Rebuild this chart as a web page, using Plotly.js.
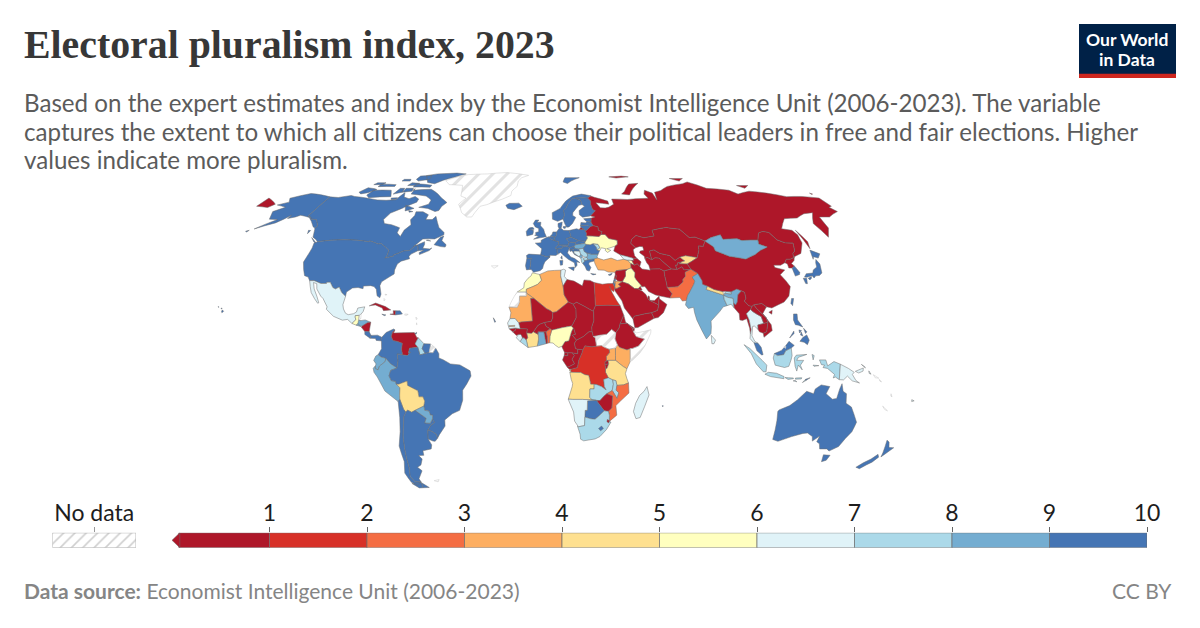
<!DOCTYPE html>
<html><head><meta charset="utf-8"><script src="https://cdn.plot.ly/plotly-3.0.1.min.js"></script>
<style>html,body{margin:0;padding:0;background:#fff}#c{width:1200px;height:628px}</style></head>
<body><div id="c"></div><script>
// ---- chart values ----
const countries=['CAN','USA','MEX','GTM','SLV','HND','NIC','CRI','PAN','CUB','HTI','DOM','JAM','TTO',
'COL','VEN','GUY','SUR','ECU','PER','BRA','BOL','CHL','ARG','PRY','URY',
'ISL','NOR','SWE','FIN','DNK','GBR','IRL','FRA','ESP','PRT','BEL','NLD','LUX','DEU','CHE','AUT','ITA','POL','CZE','SVK','HUN','SVN','HRV','BIH','SRB','MNE','ALB','MKD','GRC','BGR','ROU','MDA','UKR','BLR','LTU','LVA','EST','RUS','CYP',
'TUR','GEO','ARM','AZE','IRN','IRQ','SYR','LBN','ISR','PSE','JOR','SAU','YEM','OMN','ARE','QAT','KWT',
'KAZ','TKM','UZB','KGZ','TJK','AFG','PAK','IND','NPL','BTN','BGD','LKA','MMR','THA','LAO','KHM','VNM','CHN','TWN','MNG','PRK','KOR','JPN','MYS','IDN','PHL','TLS','PNG','AUS','NZL','FJI',
'MAR','DZA','TUN','LBY','EGY','MRT','MLI','NER','TCD','SDN','ERI','ETH','DJI','KEN','UGA','RWA','BDI','TZA','COD','COG','GAB','GNQ','CMR','CAF','NGA','BEN','TGO','GHA','CIV','LBR','SLE','GIN','GNB','SEN','GMB','BFA','AGO','ZMB','MWI','MOZ','ZWE','BWA','NAM','ZAF','SWZ','LSO','MDG','MUS','CPV'];
const values=[10,9.17,6.5,5.5,8.3,8.3,0,9.6,9.6,0,0,9.2,9,9.6,
9.2,0.9,7.5,9.2,8.75,8.75,9.6,4.7,9.6,9.2,8.3,10,
10,10,10,10,10,9.6,10,9.6,9.6,9.6,9.6,9.6,10,9.6,9.6,9.6,9.6,9.2,9.6,9.6,8.3,9.6,9.2,6.5,7.8,8.3,7,7.8,9.6,8.5,9.2,7,5.2,0.9,9.6,9.6,9.6,0.9,9.2,
3.6,6.9,5.5,0.5,0,5.3,0,0.9,9.2,3.5,3.1,0,0,0.9,0,0,0.9,
0.9,0,0.1,4.7,0.9,0,2.3,8.3,4.8,7.5,7.5,6.6,0,6.8,0,0.9,0,0,9.6,8.8,0,9.2,9.2,9.6,7.9,9.2,9.6,6.9,10,10,6,
5.3,3.1,6.2,0,1.3,3.6,0.9,0.9,0,0,0,0.4,0.4,3.5,3.2,0.8,0,4.6,1.6,0.9,0.9,0,0.9,0.9,5.2,2.3,0.9,8.3,4.3,7.9,6.3,0.4,0.9,6.7,3.5,0.9,4.4,7.9,7.1,2.2,0.4,9.2,6.7,7.4,0.9,9,6.1,9.2,9.2];
const noDataCountries=['GRL','ESH','SSD','SOM','GUF','BLZ','XKX','PRI','BHS','SLB','VUT','NCL','FLK','BRN','ATL'];
const binColors=['#ae1729','#d73027','#f46d43','#fdae61','#fee090','#ffffbf','#e0f3f8','#abd9e9','#74add1','#4575b4'];
const binEdges=[0,1,2,3,4,5,6,7,8,9,10];
const legendTicks=[1,2,3,4,5,6,7,8,9,10];
// ---- country outlines, in lon,lat ----
const outlines={
CAN:["-141,69.6 -135,69.3 -128,70.3 -125,69.8 -115,68.9 -108,68.1 -102,67.9 -96,68.2 -94,71.8 -92,69.5 -88,68.7 -85,69.8 -81.5,68.5 -81.4,67 -87,64.5 -88,64 -93,61.8 -94.5,58.8 -92.5,57 -88,56.5 -82.3,55.1 -82.2,52.9 -79.5,51.3 -79,54.1 -76.7,56.5 -78.5,58.7 -77.5,60.7 -78,62.4 -73.7,62.4 -69.5,61 -69.6,58.8 -65.8,58.8 -64.5,60.3 -62,57.5 -60,55.3 -56,53 -55.7,52 -60,50.2 -66.5,50.2 -70,47 -65,49 -64.5,47.9 -64.8,46.2 -61,45.9 -60,46.3 -61,45.2 -65.5,43.5 -66,44.3 -64,45.4 -67,45.1 -67.8,47.1 -69.2,47.4 -71.2,45.3 -74.7,45 -76.5,44.2 -79,43.3 -79,42.8 -83,42 -82.4,43 -82.5,45.3 -84.6,46.5 -88.4,48.3 -89.6,48 -95.15,49.4 -95.15,49 -123.3,49 -125,50 -127.5,51 -130,54.5 -130.5,55 -130,56 -134,58.8 -137.5,59 -139,60 -141,60.3",
"-90,73 -78,73.5 -71,71 -67,69 -62,66.8 -64,65 -64.5,63 -66.5,62.5 -72,64 -78,64.5 -73,66 -73,68 -78,70 -89,71 -89.5,73.8","-62,82.5 -70,83.1 -85,82.5 -92,81.3 -88,79 -85,77.2 -79,76.5 -75,78.5 -68,80.5","-117,73 -105,73 -101,69.7 -115,69.2 -118,70.5","-125.5,72 -123,74.3 -117.5,73.8 -115.5,73.4 -119,71.7 -123,71.1","-92,76.5 -80,75.7 -80,74.6 -92,74.7","-96,81 -88,81.5 -86,79 -93,78 -96,79","-117,76.3 -106,76 -105.5,75 -117,74.9","-100,74 -97,74 -96,72 -101,71","-96,74 -91,74 -90,72.5 -96,72","-96,77 -90,76.7 -92,75.5 -97,75.5","-105,79 -100,79 -99,78 -105,78","-121,77 -115,77 -116,76 -122,76","-100,69 -96,69.2 -96,68.4 -99,68.2","-87,65.5 -80.5,64 -85,62.8","-83,63 -80,62.5 -82,62.2","-59.3,47.7 -55.5,46.9 -53,46.7 -52.8,47.7 -55.8,49.5 -55.5,51.5 -57.3,50.8","-128,50.8 -123.4,48.4 -125,48.8","-133,54 -131.7,53.9 -132,52.5","-63.5,49.8 -61.8,49.3 -64.3,49.6"],
USA:["-123.3,49 -95.15,49 -95.15,49.4 -89.6,48 -88.4,48.3 -84.6,46.5 -82.5,45.3 -82.4,43 -83,42 -79,42.8 -79,43.3 -76.5,44.2 -74.7,45 -71.2,45.3 -69.2,47.4 -67.8,47.1 -67,45.1 -70,43.7 -70.7,42.7 -70,41.7 -74,40.7 -75.5,39.5 -76,37 -75.7,35.3 -78,33.9 -81,32 -81.4,30.4 -80,26.8 -80.3,25.3 -81.8,26.1 -82.8,28.9 -84.2,30 -86,30.4 -89.5,30.2 -89.4,29.1 -92,29.6 -94.7,29.4 -97.2,27.7 -97.2,25.9 -99.5,27.5 -101.4,29.8 -103,29 -104.5,29.6 -106.5,31.8 -108.2,31.8 -108.2,31.3 -111,31.3 -114.8,32.5 -117.1,32.5 -118.5,34 -120.6,34.6 -122.4,37.2 -124.3,40.3 -124,44 -124,46.3 -124.7,48.4",
"-141,69.6 -156.6,71.3 -166,68.9 -163,67 -168,65.6 -161,64.5 -165.5,62.5 -162,59 -157,58.8 -164.5,54.6 -156,57.3 -153.5,59 -151.5,60.8 -151.7,59.3 -148,60 -146,60.8 -139.5,59.8 -136,58 -132,55.5 -130.5,55 -130,56 -134,58.8 -137.5,59 -139,60 -141,60.3","-155.8,20.2 -155,19.6 -155.7,19 -156,19.6","-158.2,21.6 -157.7,21.4 -158,21.3","-156.6,21 -156,20.8 -156.4,20.6","-168,53.6 -166.5,54 -167,53.2"],
MEX:["-117.1,32.5 -114.8,32.5 -111,31.3 -108.2,31.3 -108.2,31.8 -106.5,31.8 -104.5,29.6 -103,29 -101.4,29.8 -99.5,27.5 -97.2,25.9 -97.8,22.4 -97.2,20.6 -95.9,18.8 -94.5,18.2 -92,18.6 -90.7,19.3 -90.3,21 -87,21.5 -87.5,19.5 -88.3,18.5 -89.15,17.9 -91,17.8 -91,17.2 -90.5,16.1 -92.2,14.5 -94.5,16.2 -97,15.9 -101.5,17.5 -105.5,20.5 -105.3,21.5 -108,25 -109.4,26 -112.2,29 -113,31.2 -114.8,31.7 -113.5,29 -111.3,26 -109.7,23.2 -110.2,23 -112.2,25 -114.5,27.5 -115.8,30"],
GTM:["-92.2,14.5 -90.5,16.1 -91,17.2 -91,17.8 -89.15,17.9 -89.2,15.9 -88.2,15.7 -89.3,14.4 -90.1,13.8"],
BLZ:["-88.3,18.5 -88.2,16.5 -89.2,15.9 -89.15,17.9"],
SLV:["-90.1,13.8 -89.3,14.4 -87.8,13.4 -87.8,13.2"],
HND:["-89.2,15.9 -88.2,15.7 -86,16 -83.2,15 -84.8,14.8 -87,13.5 -87.8,13.4 -89.3,14.4"],
NIC:["-83.2,15 -83.6,11 -85.7,11.1 -87.6,13 -87,13.5 -84.8,14.8"],
CRI:["-83.6,11 -82.6,9.5 -83,8.3 -85.6,9.9 -85.7,11.1"],
PAN:["-82.6,9.5 -79.5,9.6 -77.4,8.7 -77.9,7.2 -80,7.4 -80.4,8.2 -83,8.3"],
CUB:["-84.9,21.9 -82,23.1 -77,21.6 -74.2,20.2 -77.7,19.9 -78.5,21 -82,22.3"],
HTI:["-74.4,18.4 -71.7,18.1 -71.7,19.8 -73,19.9 -72.7,18.6"],
DOM:["-71.7,18.1 -68.4,18.5 -69.6,19.8 -71.7,19.8"],
JAM:["-78.3,18.4 -76.3,18.1 -77,17.8"],
TTO:["-61.9,10.1 -60.9,10.8 -61,10.1"],
PRI:["-67.2,18.5 -65.6,18.4 -66,18 -67.2,18"],
BHS:["-78,26.8 -77,26.6 -77.8,26.4","-78.2,25 -77.6,24.5 -78,24"],
ATL:["-61.7,17.2 -61.5,16.2 -61,16.4","-61.2,14.8 -60.9,14 -61.2,14","-23.5,38.8 -27,38.7 -25.5,37.7"],
COL:["-77.4,8.7 -75.5,10.7 -72,12.2 -71.3,11.8 -72.4,10.9 -72.9,9 -72,7.4 -70,7 -67.5,6.2 -67.8,3.7 -67.2,1.3 -69.8,1.7 -69.4,-1.1 -70,-4.2 -72.9,-2.5 -75.3,-0.1 -77.5,0.4 -78.9,1.4 -77.3,3.9 -77.5,7 -77.9,7.2"],
VEN:["-71.3,11.8 -71.9,10.5 -68,10.6 -62,10.7 -60.7,8.6 -60,8.5 -61,6.7 -61.4,5.9 -60.7,5.2 -60.1,4.5 -64,4.1 -64.5,2 -63.4,2.4 -65,1 -67.2,1.3 -67.8,3.7 -67.5,6.2 -70,7 -72,7.4 -72.9,9 -72.4,10.9"],
GUY:["-60,8.5 -57.2,6 -58,4 -56.5,1.9 -59,1.3 -60.1,4.5 -60.7,5.2 -61.4,5.9 -61,6.7"],
SUR:["-57.2,6 -54,5.9 -54.6,2.3 -56.5,1.9 -58,4"],
GUF:["-54,5.9 -51.6,4.2 -52.8,2.2 -54.6,2.3"],
BRA:["-51.6,4.2 -50,1.8 -50,0 -48,-0.7 -44.5,-2.5 -40,-2.9 -35.2,-5.4 -34.8,-7.6 -37,-11 -39,-13.5 -39.2,-17.7 -41,-22 -44.7,-23.4 -48.6,-26 -48.8,-28.6 -52.2,-32.2 -53.4,-33.7 -53.8,-32 -55.6,-30.9 -57.6,-30.2 -55.9,-28.3 -53.8,-27.1 -54.6,-25.6 -54.3,-24 -55.4,-24 -55.9,-22.3 -58,-22 -58.2,-20.2 -57.6,-18.1 -58.3,-16.3 -60.2,-16.3 -60.5,-13.8 -65.3,-11.5 -65.4,-9.7 -69.5,-11 -70.6,-11 -70.9,-9.8 -72.9,-9.5 -73.9,-7.5 -73,-5.2 -70,-4.2 -69.4,-1.1 -69.8,1.7 -67.2,1.3 -65,1 -63.4,2.4 -64.5,2 -64,4.1 -60.1,4.5 -59,1.3 -56.5,1.9 -54.6,2.3 -52.8,2.2"],
ECU:["-78.9,1.4 -80,0.8 -81,-1 -79.9,-2.5 -80.3,-3.4 -80.3,-4.5 -79,-5 -78.3,-3.4 -75.5,-1.5 -75.3,-0.1 -77.5,0.4"],
PER:["-75.3,-0.1 -75.5,-1.5 -78.3,-3.4 -79,-5 -80.3,-4.5 -80.3,-3.4 -81.3,-4.3 -81,-6 -79.5,-8 -76.3,-13.9 -70.4,-18.3 -69.5,-17.4 -69.4,-15.6 -69,-12.5 -70.6,-11 -70.9,-9.8 -72.9,-9.5 -73.9,-7.5 -73,-5.2 -70,-4.2 -72.9,-2.5"],
BOL:["-69.5,-11 -65.4,-9.7 -65.3,-11.5 -60.5,-13.8 -60.2,-16.3 -58.3,-16.3 -57.6,-18.1 -58.2,-20.2 -62.6,-22 -64.4,-22.8 -66.3,-21.9 -67.2,-22.8 -68.2,-21.5 -69.5,-17.4 -69.4,-15.6 -69,-12.5 -70.6,-11"],
CHL:["-70.4,-18.3 -69.5,-17.4 -68.2,-21.5 -67.2,-22.8 -68.4,-24.5 -69.7,-30 -70.5,-33 -71.2,-38 -71.7,-42 -72,-46 -73.3,-50 -71.9,-52 -68.5,-52.3 -71,-53.8 -74,-52.5 -75.5,-48.5 -73.5,-43.5 -73.7,-37 -71.5,-31 -70.5,-25","-68.6,-52.6 -68.6,-54.9 -71,-55 -74,-53"],
ARG:["-66.3,-21.9 -64.4,-22.8 -62.6,-22 -57.6,-25.3 -58.6,-27.3 -55.9,-27.4 -54.6,-25.6 -53.8,-27.1 -55.9,-28.3 -57.6,-30.2 -58.2,-34 -57,-36.5 -57.7,-38.2 -62.2,-39 -62.3,-40.9 -65,-41 -63.7,-42.5 -65.3,-45 -67.5,-46 -65.7,-47.5 -69,-51 -68.5,-52.3 -71.9,-52 -73.3,-50 -72,-46 -71.7,-42 -71.2,-38 -70.5,-33 -69.7,-30 -68.4,-24.5 -67.2,-22.8","-68.6,-52.6 -65.2,-54.8 -68.6,-54.9"],
PRY:["-58.2,-20.2 -58,-22 -55.9,-22.3 -55.4,-24 -54.3,-24 -54.6,-25.6 -55.9,-27.4 -58.6,-27.3 -57.6,-25.3 -62.6,-22"],
URY:["-53.4,-33.7 -53.8,-32 -55.6,-30.9 -57.6,-30.2 -58.2,-34 -56,-34.9 -54.9,-35"],
FLK:["-61,-51.8 -58,-51.3 -59,-52.3"],
GRL:["-46,60 -43,60 -42,62 -40,65 -36,65.8 -27,68.5 -22,70.3 -22,72.5 -19,75 -19,78 -17,80 -12,81.5 -30,83.5 -45,82.5 -60,82 -65,81 -73,78.2 -68,76 -58,75.6 -55,70 -51,69 -54,66 -50,62"],
ISL:["-24,65.5 -22,66.4 -16,66.5 -13.6,65 -18.5,63.4 -22.5,64"],
NOR:["5,59 5,62 10,64 14,67.5 19,70 25,71 31,70.2 28.5,69 25.7,69.1 20.5,69 18,68.5 15,66 14,64.5 12.1,63 12.3,60.8 11.2,59.1 8,58","14,77.5 16,80 27,80 20,78 17,76.6"],
SWE:["11.2,59.1 12.3,60.8 12.1,63 14,64.5 15,66 18,68.5 20.5,69 23.7,67.9 24,65.8 22,65.5 17.5,62 17.2,60.7 18.9,59.8 16.5,57 14.3,55.5 12.9,55.4 12,57"],
FIN:["20.5,69 25.7,69.1 28.5,69 30,67.5 29.5,66 30,63.5 31.5,62.9 27.8,60.5 23,59.9 21.3,61 21.5,63 25.4,65 24,65.8 23.7,67.9"],
DNK:["8.1,57 10.6,57.7 10.3,56.2 9.7,54.9 8.6,54.9 8.1,55.6","11,55.7 12.6,55.7 12,54.8 11,55"],
GBR:["-5.7,50.1 1.3,51.2 0.3,53 -0.2,54.5 -2,56 -1.8,57.6 -4,57.6 -3,58.6 -5,58.6 -6.2,57 -5,55.5 -3,54.8 -3,53.4 -4.7,53 -4.5,52 -5.2,51.8 -3,51.4","-5.6,54.5 -6.2,55.2 -7.3,55.2 -7.5,54.2"],
IRL:["-6,53 -6.3,52.2 -9.5,51.5 -10,53.5 -8.5,55 -7.3,55.2 -7.5,54.2 -6,54"],
FRA:["-1.8,43.4 -1.2,46 -4.7,48.4 -1.6,48.6 -1.5,49.7 1.6,50.9 2.5,51.1 4.2,50 5.8,49.5 8.2,49 7.6,47.6 6,46.3 7,45.9 7,44.2 7.5,43.8 6.2,43.1 3.1,43.2 3.1,42.4 0.7,42.7","9.4,43 9.5,41.5 8.7,42"],
ESP:["-1.8,43.4 0.7,42.7 3.1,42.4 0.5,40.5 -0.3,39 -0.7,37.6 -2,36.7 -5.3,36 -6.5,37.2 -7.4,37.2 -7,38.9 -6.9,41 -6.6,41.9 -8.2,41.8 -8.9,42 -9.2,43.1 -8,43.7"],
PRT:["-8.9,42 -8.2,41.8 -6.6,41.9 -6.9,41 -7,38.9 -7.4,37.2 -8.9,37 -9.5,38.8"],
BEL:["2.5,51.1 4.2,51.4 6,50.8 5.8,49.5 4.2,50"],
NLD:["3.4,51.4 4.2,51.4 6,50.8 7.1,52.2 7.1,53.3 5,53.3 4.5,52.2"],
LUX:["5.8,49.5 6,50.2 6.5,49.8 6.2,49.4"],
DEU:["7.1,53.3 8.6,54.9 9.7,54.9 11,54 14.1,53.9 14.6,52.6 15,51 12.2,50.3 13.7,48.9 13,47.5 9.6,47.5 7.6,47.6 8.2,49 5.8,49.5 6,50.8 7.1,52.2"],
CHE:["7.6,47.6 9.6,47.5 10.4,46.8 9,46 7,45.9 6,46.3"],
AUT:["9.6,47.5 13,47.5 13.7,48.9 16.9,48.6 17,47.7 16.2,46.9 13.7,46.5 12.2,47 10.4,46.8"],
ITA:["7,44.2 7,45.9 9,46 10.4,46.8 12.2,47 13.7,46.5 12.4,44.2 14,42.5 16,41.8 18.5,40.1 16.9,40.4 17,39 16,38 15.7,40 12.6,41.5 10.5,43 8.8,44.4 7.5,43.8","12.5,38 15.6,38.2 15.1,36.7","8.2,41 9.8,41 9.5,39.1 8.4,39"],
POL:["14.1,53.9 18.5,54.7 19.7,54.4 23,54.3 23.8,52.7 23.5,51.6 24,50.6 22.6,49.1 19,49.4 18.8,49.5 15,51 14.6,52.6"],
CZE:["12.2,50.3 15,51 18.8,49.5 16.9,48.6 13.7,48.9"],
SVK:["18.8,49.5 19,49.4 22.6,49.1 22,48.3 18.8,47.9 17,47.7 16.9,48.6"],
HUN:["17,47.7 18.8,47.9 22,48.3 22.9,47.9 21,46.2 18.5,45.8 16.5,46 16.2,46.9"],
SVN:["13.7,46.5 16.2,46.9 16.5,46 15,45.5 13.6,45.5"],
HRV:["13.6,45.5 15,45.5 16.5,46 18.5,45.8 19,44.9 15.9,45 15.8,44.2 18.5,42.5 16,43.5 14.8,45.1 13.9,44.8"],
BIH:["15.9,45 19,44.9 19.3,43.5 18.5,42.5 15.8,44.2"],
SRB:["18.5,45.8 21,46.2 21.4,44.8 22.7,44.2 22.9,43.2 22.4,42.3 21.5,42.3 20.3,42.9 19.3,43.5 19,44.9"],
XKX:["20.3,42.9 21.5,42.3 20.6,41.9 20.1,42.6"],
MNE:["18.5,42.5 19.3,43.5 20.3,42.9 20.1,42.6 19.3,41.9"],
ALB:["19.3,41.9 20.1,42.6 20.6,41.9 21,40.9 21,40.6 20,39.7 19.4,40.3"],
MKD:["20.6,41.9 21.5,42.3 22.4,42.3 23,41.3 21,40.9"],
GRC:["20,39.7 21,40.6 21,40.9 23,41.3 26.3,41.7 26,40.8 23.5,40.2 23,39.5 24,38 23,36.5 21.7,36.9 21.1,38.3","23.6,35.5 26.3,35.2 24.7,34.9"],
BGR:["22.9,43.2 22.7,44.2 25,43.7 28.5,43.7 27.7,42.5 28,42 26.3,41.7 23,41.3 22.4,42.3"],
ROU:["21,46.2 22.9,47.9 24.9,47.7 26.6,48.2 28.2,46.5 28.2,45.4 29.6,45.2 28.5,43.7 25,43.7 22.7,44.2 21.4,44.8"],
MDA:["26.6,48.2 29.2,47.9 30,46.4 28.2,45.4 28.2,46.5"],
UKR:["24,50.6 23.5,51.6 30.5,51.3 31.7,52.2 34,52.2 35.6,50.4 38.2,50 40,49.6 39.7,47.9 38.2,47.1 35,46.3 33.5,46 35.5,45.3 33.6,44.4 32.5,45.3 33,46 30.7,46.4 29.6,45.2 28.2,45.4 30,46.4 29.2,47.9 26.6,48.2 24.9,47.7 22.9,47.9 22,48.3 22.6,49.1"],
BLR:["23.5,51.6 23.8,52.7 23.2,53.9 24,54 26.5,55.7 28.2,56.1 30.9,55.6 30.8,54 32.7,53.4 31.7,52.2 30.5,51.3"],
LTU:["21,55.2 21,56.1 25,56.3 26.5,55.7 24,54 23.2,53.9 22.8,54.4"],
LVA:["21,56.1 21.5,57.5 24.3,57.3 25,58 27.5,57.5 28.2,56.1 26.5,55.7 25,56.3"],
EST:["23.4,59.2 28,59.5 27.4,57.6 25,58 24.3,58.3"],
RUS:["28,59.5 30.3,60 27.8,60.5 31.5,62.9 30,63.5 29.5,66 30,67.5 28.5,69 31,70 33,69.4 41,67.5 41,66 33,66.7 35,64.3 38,64.2 40.5,64.6 44,66 44,68.5 54,68.3 60,68.7 68,68.9 67,71 69,73 73,71.5 73,68 75,72 80,72.8 87,75 100,76.5 105,77.5 113,74 127,73 130,71 140,72.5 150,71.5 160,69.7 170,69.8 179.9,69 179.9,65 177.5,64.5 179,62.5 170,60 164,60 163,58 162,55 157,51 156,57 163,62 157,61.5 150,59.5 142,59.2 135,54.7 140,54 141,52 140,48.5 135.5,44 131,42.6 130.7,42.3 130.6,42.8 131.2,44 133,45 135,48.4 130.8,48.5 127.5,49.8 126,53 123,53.5 120,52.8 117,49.7 113,49.7 108,49.5 106,50.3 98,50 98,52 92,50.8 87.8,49.3 83.4,51 80,50.8 77.9,53.3 76.8,54.5 71,55 70,55.3 61,54 61,51.5 55,50.7 51,51.7 48,50 47,48.3 49,46.4 47.5,45.6 47.5,43 48.5,41.8 46.5,41.9 40,43.4 37,45 38.2,47.1 39.7,47.9 40,49.6 38.2,50 35.6,50.4 34,52.2 31.7,52.2 32.7,53.4 30.8,54 30.9,55.6 28.2,56.1 27.5,57.5 27.4,57.6","20,54.4 22.8,54.4 21,55.2","142,54 143.5,49 142,46 142,50","52,71 57,70.6 68,76.7 61,76.3 55,72.5","95,79.5 105,79.5 100,78","-179.9,69 -170,66 -172,64.4 -179.9,65","179,71.5 179.9,71 179,70.8","50,80.5 60,81 65,80.5 55,79.8","137,75.5 145,75.5 140,74"],
CYP:["32.4,35 34.5,35.6 33.9,34.9 32.9,34.7"],
TUR:["26,40.8 26.3,41.7 28,42 31,41.2 35,42 38,41 41.5,41.5 43.5,41.1 44.7,39.7 44.5,37.8 42.4,37.2 36.7,36.7 36,36 32.5,36.1 30.6,36.9 27.5,37 26.3,39.5"],
GEO:["40,43.4 46.5,41.9 46.5,41 45.5,41 43.5,41.1 41.5,41.5"],
ARM:["43.5,41.1 45.5,41 46.5,39 44.7,39.7"],
AZE:["46.5,41.9 48.5,41.8 50.2,40.4 49,38.4 48,39.6 46.5,39 45.5,41 46.5,41"],
IRN:["44.7,39.7 46.5,39 48,39.6 49,38.4 50,37.4 54,36.9 54,37.4 59,37.5 61,36.6 60.8,34.4 61,31.5 61,29.6 63,27 61.6,25.2 57,26 54.7,26.5 51.5,27.9 50,30 48.5,29.9 47.7,31 46,33 45.5,34 46,35.8 44.5,37.8"],
IRQ:["42.4,37.2 44.5,37.8 46,35.8 45.5,34 46,33 47.7,31 48.5,29.9 47.7,30 46.5,29.1 44.7,29.2 42,31.1 39,32 41,34.4 41.3,36.4"],
SYR:["36,36 36.7,36.7 42.4,37.2 41.3,36.4 41,34.4 39,32 36.8,32.3 35.9,33.2 36.4,34.6 35.9,35"],
LBN:["35.9,35 36.4,34.6 35.9,33.2 35.1,33.1 35.5,34"],
ISR:["35.1,33.1 35.9,33.2 35.5,32 35,32.5 35,31.3 35.5,31.4 35,29.5 34.3,31.3 34.9,32.5"],
PSE:["35,32.5 35.5,32 35.5,31.4 35,31.3"],
JOR:["35.5,32 36.8,32.3 39,32 37,31 38,30 36,29.2 35,29.5 35.5,31.4"],
SAU:["36,29.2 38,30 37,31 39,32 42,31.1 44.7,29.2 46.5,29.1 47.5,28.5 48.5,28 50,26.7 50.8,25 51.6,24.2 55,22.7 55.7,22 55,20 52,19 49,18.6 43.5,17.5 43,16.7 42.8,16.4 39,21 38,24 35,28.1 34.7,29.3"],
YEM:["43,16.7 43.5,17.5 49,18.6 52,19 53.1,16.7 45,12.8 43.5,12.7 42.8,16.4"],
OMN:["52,19 55,20 55.7,22 56,24.5 56.4,24.9 59.8,22.5 57.7,19 55,17 53.1,16.7"],
ARE:["51.6,24.2 54,24.2 56.4,26 56.4,24.9 56,24.5 55.7,22 55,22.7"],
QAT:["50.8,25 51,26.1 51.6,25.8 51.6,24.2"],
KWT:["46.5,29.1 47.7,30 48.4,28.6 47.5,28.5"],
KAZ:["47,48.3 48,50 51,51.7 55,50.7 61,51.5 61,54 70,55.3 71,55 76.8,54.5 77.9,53.3 80,50.8 83.4,51 87.8,49.3 85.5,47 83,47.2 82.5,45.5 80,42.2 74.2,43 71,42.4 68,41 66,43 61,44 58.5,45.5 56,45 56,41.3 54,42.3 52.5,41.8 52.5,42.8 50.5,44.3 51,45 53,45.3 53,46.8 51.5,47 49,46.4"],
TKM:["52.5,41.8 54,42.3 56,41.3 57.9,42.2 60,42 62,40 65,37.4 61,36.6 59,37.5 54,37.4 53.8,39 53,40"],
UZB:["56,45 58.5,45.5 61,44 66,43 68,41 71,42.4 73,40.8 71,40.3 69,40 68.4,39 67.5,39 67.8,37.2 65,37.4 62,40 60,42 57.9,42.2 56,41.3"],
KGZ:["71,42.4 74.2,43 80,42.2 76,40.4 73.7,39.5 69.5,39.6 71,40.3 73,40.8"],
TJK:["67.5,39 68.4,39 69,40 71,40.3 69.5,39.6 73.7,39.5 74.9,37.3 71.3,37 70.5,38.3 67.8,37.2"],
AFG:["60.8,34.4 61,36.6 65,37.4 67.8,37.2 70.5,38.3 71.3,37 74.9,37.3 71.5,36 71.2,34.3 69.5,33 69.3,31.9 66.3,29.9 61,29.6 61,31.5"],
PAK:["61,29.6 66.3,29.9 69.3,31.9 69.5,33 71.2,34.3 71.5,36 74.9,37.3 77.8,35.5 74.5,34 75.3,32.3 74.4,30.9 71.9,27.9 70.4,26.2 69.5,24.2 67.5,23.9 66.5,25.4 61.6,25.2 63,27"],
IND:["77.8,35.5 79,32.5 78.8,31 81,30.2 80.1,28.8 84.7,27.4 88.1,26.4 88.8,27.2 92,26.9 92,27.8 95.2,29 97.3,28.2 95.2,26.6 94.2,23.5 93.2,22.3 92.3,23 92.4,25 89.8,25.5 88.1,26.3 88,24.7 89,22 87,21.5 85,19.5 80.3,15.5 80.2,13 79.8,10.3 77.5,8 75.5,11.7 73.5,16 72.8,19 72.6,21.3 70,20.8 68.8,22.3 69.5,24.2 70.4,26.2 71.9,27.9 74.4,30.9 75.3,32.3 74.5,34"],
NPL:["80.1,28.8 81,30.2 84,28.8 88.1,27.9 88.1,26.4 84.7,27.4"],
BTN:["88.8,27.2 89.5,28 92,27.8 92,26.9"],
BGD:["88.1,26.3 89.8,25.5 92.4,25 92.3,23 92.3,21 91,22.6 89,22 88,24.7"],
LKA:["79.9,9.5 81.8,7.5 81,6 80,6"],
MMR:["92.3,21 92.3,23 93.2,22.3 94.2,23.5 95.2,26.6 97.3,28.2 98.7,27.6 98.7,25 97.7,23.9 99.5,22 101.1,21.7 100.1,20.4 97.8,18.6 98.7,16 99.2,12 98.6,10 98.5,12.5 97.6,16.5 95.5,15.8 94.2,16 94.3,18.6"],
THA:["100.1,20.4 101,19.5 103,18.3 104.7,17.4 105.5,14.5 102.6,13.9 102.5,12 100.9,13.4 100,13.3 99.3,9.3 100.5,7 102,6.2 101,5.7 99.7,6.7 98.3,8.2 98.6,10 99.2,12 98.7,16 97.8,18.6"],
LAO:["101.1,21.7 102,22.4 103,20.9 104.5,19.4 107,17 107.6,15 105.5,14.5 104.7,17.4 103,18.3 101,19.5 100.1,20.4"],
KHM:["102.6,13.9 105.5,14.5 107.6,15 106.5,11 104.8,10.4 103,11 102.5,12"],
VNM:["102,22.4 106,22.9 108,21.5 105.7,18.7 109,14 109.2,11.5 105,8.7 104.8,10.4 106.5,11 107.6,15 107,17 104.5,19.4 103,20.9"],
CHN:["130.7,42.3 130.6,42.8 131.2,44 133,45 135,48.4 130.8,48.5 127.5,49.8 126,53 123,53.5 120,52.8 117,49.7 116,48 119.7,46.7 115,45.3 111,43.5 105,41.6 97,42.8 91,45.1 91,46.8 87.8,49.3 85.5,47 83,47.2 82.5,45.5 80,42.2 76,40.4 73.7,39.5 74.9,37.3 77.8,35.5 79,32.5 78.8,31 81,30.2 84,28.8 88.1,27.9 89.5,28 92,27.8 95.2,29 97.3,28.2 98.7,27.6 98.7,25 97.7,23.9 99.5,22 101.1,21.7 102,22.4 106,22.9 108,21.5 110.5,21 114,22.4 117,23.5 120,26 122,30 120.8,32.5 119.2,35 122.5,37 118,38 118,39 121.5,39 124.3,40 126,41.5 128,41.5","108.7,19.2 110.5,20.1 110,18.4"],
TWN:["121,25 122,25 120.8,22 120.2,23"],
MNG:["87.8,49.3 92,50.8 98,52 98,50 106,50.3 108,49.5 113,49.7 117,49.7 116,48 119.7,46.7 115,45.3 111,43.5 105,41.6 97,42.8 91,45.1 91,46.8"],
PRK:["124.3,40 126,41.5 128,41.5 130.7,42.3 129.7,41 127.5,39.7 128.4,38.6 126.7,37.8 125,37.8 125.3,39.5"],
KOR:["126.7,37.8 128.4,38.6 129.5,36 129,35.1 126.5,34.4 126.6,36.7"],
JPN:["130.9,34 132.5,35.4 136,35.7 137,37 139.5,38.2 140.2,40 141.3,41.4 142,39.5 140.6,35.7 138.8,34.7 136.8,34.5 135.5,33.6 135,34.6 132,33.9","140,41.5 141.4,45.4 145.3,43.8 143,42 141,42.6","130,33.5 131.7,33.5 131,31.2 130.2,31.3","132.5,33.5 134.5,34.2 134,33.4 133,32.8"],
MYS:["100.1,6.4 102,6.2 103.4,4.5 104.2,1.4 103.5,1.3 101.3,3 100.4,5.5","109.6,1.9 111.3,2.5 113,3.2 115,5 116.8,7 119.2,5.3 117.7,4.2 115,3 114,1.4 111,1"],
BRN:["114.2,4.6 115.2,5 115,4"],
IDN:["95.3,5.6 98,4 103.8,-1 106,-3 105.8,-5.8 104.5,-5.8 101,-2.5 98.6,1.8","105.3,-6.8 106.9,-6 110.8,-6.4 114.5,-7.8 114.5,-8.7 108,-7.8","109.6,1.9 111,1 114,1.4 115,3 117.7,4.2 118,1 117.5,-0.8 116.5,-3.5 114.5,-4 110,-3 109,0","119.5,-3.5 119,0 120,1.2 125,1.5 121,0.3 120.2,-1 123.5,-1 122,-3 123,-5 121,-3 120.4,-5.5","123.5,-10.3 124.9,-8.9 125,-9.5","115,-8.2 116.6,-8.3 119,-8.4 119,-8.7 116.5,-9","120,-8.4 123,-8.3 122.8,-8.8 120,-8.9","119,-9.6 120.8,-10 120,-9.4","127.5,1.5 128.5,1 128,-0.8","128,-3 130.8,-3.2 128.5,-3.5","131,-0.8 134,-0.8 135,-3.3 137.9,-1.5 141,-2.6 141,-9.1 139,-8 138,-8.4 138.5,-6.9 135,-4.4 132.8,-4 133.5,-3 132,-2.8"],
PHL:["120.5,18.5 122.2,18.5 122,16 124,13 122,13.8 120.6,14 120,16","122,7 123.5,8.6 125.5,9.7 126.5,7.5 125.5,5.6 124,6.6","124.3,12.5 125.7,11 125,10.3","122,11.8 123.2,11.5 122.2,10.5","123,10.9 123.6,9.2 122.5,9.7","117.2,8.4 119.5,11.3 119.5,10.3"],
TLS:["124.9,-8.9 127,-8.3 125,-9.5"],
PNG:["141,-2.6 145,-4.4 147.8,-6 147,-6.9 149,-9.5 150.8,-10.5 147.2,-9.6 144.7,-7.6 143,-9.2 141,-9.1","148.3,-5.6 152,-4.2 152,-5.5 150,-6.3","151,-2.7 153,-4.2 152.6,-3.6","154.7,-5.4 155.9,-6.8 155,-6.5"],
SLB:["157,-7 159.8,-8.5 158,-8.3","160,-9 161.3,-10 160.5,-9.8"],
VUT:["166.7,-15 167.5,-16.3 166.8,-16"],
NCL:["164,-20.2 167,-22.2 165.5,-21.7"],
FJI:["177.3,-17.5 178.6,-18 177.5,-18.3"],
AUS:["113.7,-22.5 114.2,-26.3 115,-34.2 118,-35 124,-33 129,-31.7 131.2,-31.5 134.3,-33 135.3,-34.9 137.9,-32.8 137.7,-35.2 139.5,-36 141,-38.2 144.7,-38.2 146.4,-39.1 150,-37.2 151.3,-33.8 153,-31 153.5,-27 151,-23.5 149,-20.6 146,-19 145.3,-15 143.5,-14 142.5,-10.8 141.7,-13 141,-17 139,-17.3 135.5,-15 136.8,-12 132.6,-11.3 130,-13 129.5,-15 126,-14 122.3,-17.5 119,-20 114.2,-21.8","144.7,-40.7 148.3,-40.9 148,-43 146,-43.6"],
NZL:["172.7,-34.5 174.3,-35.3 176,-37.6 178.5,-37.7 177,-39.5 175.3,-41.6 174.7,-39.8","172.8,-40.5 174.2,-41.7 172.8,-43.8 171,-45 169,-46.6 166.5,-46 168.5,-44.1 171,-42.5"],
MAR:["-5.9,35.8 -2.2,35.1 -1.2,32.7 -3.2,30.9 -5.5,30 -8.7,28.9 -8.7,27.7 -13.2,27.7 -10,29.5 -9.8,31.5 -8,33.5 -6.5,34.5"],
ESH:["-13.2,27.7 -8.7,27.7 -8.7,26 -12,26 -12,23.4 -13,21.3 -17,21.4 -16,23.5 -14.5,26"],
MRT:["-8.7,27.7 -8.7,27.3 -4.9,25 -6.5,25 -5.5,15.5 -10.9,15.1 -12.2,14.8 -14,16.6 -16.4,16.5 -16,19 -17,21.4 -13,21.3 -12,23.4 -12,26 -8.7,26"],
DZA:["-2.2,35.1 2,36.6 8.6,36.9 8.4,34.5 9.5,30.2 9.9,26.5 11.9,23.5 6,19.4 4.2,19.1 3.2,19.8 1.2,20.7 -4.9,25 -8.7,27.3 -8.7,28.9 -5.5,30 -3.2,30.9 -1.2,32.7"],
TUN:["8.6,36.9 10,37.3 11,36.9 10.2,34.3 11.5,33 9.5,30.2 8.4,34.5"],
LBY:["11.5,33 15,32.3 19,30.3 20,32.8 23,32.6 25,31.7 25,22 24,20 24,19.5 15.9,23.4 14.2,22.6 11.9,23.5 9.9,26.5 9.5,30.2"],
EGY:["25,31.7 29,31 32,31.3 34.3,31.3 35,29.5 34.3,27.8 33,28.8 32.5,30 33.5,27.5 35.5,24 37,22 25,22"],
SDN:["25,22 37,22 38.5,18 36.5,14.3 36,12.6 34.3,10.6 33,11.5 32.4,12 30,10 27,9.6 23.5,9 23,11 22.9,13 24,15.7 24,19.5 24,20"],
SSD:["23.5,9 27,9.6 30,10 32.4,12 33,11.5 34.3,10.6 33.9,8 35,5.5 34,4.2 31,3.7 29,4.4 27.4,5.2 25,5 24.5,8.5"],
ERI:["38.5,18 39.2,15 43,12.7 42.3,12.5 40,14.5 38,14.5 36.5,14.3"],
ETH:["36.5,14.3 38,14.5 40,14.5 42.3,12.5 42.8,11 44,9 47.9,8 45,5 42,4 41,3.9 39.5,3.4 36,4.4 35,5.5 33.9,8 34.3,10.6 36,12.6"],
DJI:["42.3,12.5 43.3,12.5 43.2,11.5 42.8,11"],
SOM:["42.8,11 43.2,11.5 44,10.5 48,11.2 51.2,11.9 51,10.4 48,5 45.5,2 42,-1 41,-1.5 41,3.9 42,4 45,5 47.9,8 44,9"],
KEN:["34,4.2 35,5.5 36,4.4 39.5,3.4 41,3.9 41,-1.5 39.5,-4.5 37.7,-3.6 34,-1 34,1"],
UGA:["31,3.7 34,4.2 34,1 34,-1 30.5,-1 29.7,-1.4 29.6,0.6 31.2,2.3"],
RWA:["29,-1.5 30.5,-1 30.8,-2.4 29,-2.8"],
BDI:["29,-2.8 30.8,-2.4 30,-4.4 29.3,-4.5"],
TZA:["30.5,-1 34,-1 37.7,-3.6 39.5,-4.5 38.8,-6.5 39.5,-8.5 40.4,-10.5 38,-11.3 34.9,-11.5 34.3,-9.5 32.8,-9.2 30.7,-8.3 29.3,-6 29.3,-4.5 30,-4.4 30.8,-2.4"],
COD:["12.3,-6 13,-5.9 12.5,-5 13,-4.7 15.9,-4 16.5,-1 18,2 18.5,3.5 19.5,5.1 22.8,4.7 25,5 27.4,5.2 29,4.4 31,3.7 31.2,2.3 29.6,0.6 29.7,-1.4 29,-1.5 29,-2.8 29.3,-4.5 29.3,-6 30.7,-8.3 28.5,-9 28.9,-12 29.8,-13.4 27.5,-12 25.3,-11.2 22.3,-11 22,-9.7 21.3,-7.3 19.4,-7 17.5,-6.1"],
AGO:["12.3,-6 17.5,-6.1 19.4,-7 21.3,-7.3 22,-9.7 22.3,-11 24,-11 24,-13 22,-13 22,-16.5 23.3,-17.6 18.5,-17.4 13.9,-17.4 11.7,-17.3 13.5,-12 13.7,-10.7 13,-9","12,-5 13,-4.7 12.5,-5.6"],
ZMB:["22,-13 24,-13 24,-11 25.3,-11.2 27.5,-12 29.8,-13.4 28.9,-12 28.5,-9 30.7,-8.3 32.8,-9.2 33.2,-11 32.7,-13.7 30.2,-15 28.9,-16 27,-17.9 25.2,-17.8 23.3,-17.6 22,-16.5"],
MWI:["32.8,-9.2 34.3,-9.5 34.9,-11.5 34.6,-13.5 35.9,-14.6 35.2,-17 33,-14 32.7,-13.7 33.2,-11"],
MOZ:["34.9,-11.5 38,-11.3 40.4,-10.5 40.8,-14.7 37,-18 34.8,-20 35.5,-24 32.9,-26 32,-26.7 31.9,-24 31.3,-22.4 32.9,-21 32.9,-18.6 33,-16 30.2,-15 32.7,-13.7 33,-14 35.2,-17 35.9,-14.6 34.6,-13.5"],
ZWE:["27,-17.9 28.9,-16 30.2,-15 33,-16 32.9,-18.6 32.9,-21 31.3,-22.4 29.3,-22.2 27.7,-20.5 25.3,-17.9"],
BWA:["21,-18 23.3,-17.6 25.2,-17.8 25.3,-17.9 27.7,-20.5 29.3,-22.2 26.5,-24.6 25,-25.7 22.8,-25.5 20,-24.8 20,-22 21,-22"],
NAM:["11.7,-17.3 13.9,-17.4 18.5,-17.4 23.3,-17.6 25.2,-17.8 21,-18 21,-22 20,-22 20,-28.4 17,-28.9 15,-26.5 14.4,-22.7 12,-18"],
ZAF:["16.5,-28.6 17,-28.9 20,-28.4 20,-24.8 22.8,-25.5 25,-25.7 26.5,-24.6 29.3,-22.2 31.3,-22.4 31.9,-24 32,-26.7 32.9,-26.9 31,-30 28,-33 25.7,-34 20,-34.8 18.4,-34.1 18,-32"],
SWZ:["31,-25.8 32,-26.3 31.9,-27.3 30.9,-26.8"],
LSO:["27,-29.6 28.4,-28.6 29.4,-29.6 28.1,-30.6"],
MDG:["49.3,-12 50.5,-15.5 47,-25 45,-25.5 43.5,-22.5 44.3,-19 46,-15.7 48,-14"],
MUS:["57.3,-20 57.8,-20.1 57.5,-20.5"],
CPV:["-24.4,16.9 -23.2,15.2 -23.7,15"],
GAB:["9.6,1 11.3,1 11.3,2.2 13.3,2.2 14.4,1 13.3,-0.5 14.5,-2.4 12,-3.6 11,-3.8 8.8,-0.8"],
GNQ:["9.6,1 11.3,1 11.3,2.2 9.8,2.3"],
COG:["11,-3.8 12,-3.6 14.5,-2.4 13.3,-0.5 14.4,1 13.3,2.2 16,1.8 16,3.7 18.5,3.5 18,2 16.5,-1 15.9,-4 13,-4.7 12,-4.7"],
CMR:["8.5,4.7 9.8,2.3 11.3,2.2 13.3,2.2 16,1.8 16,3.7 15,4 14.5,6.2 15.5,7.5 13.5,9.6 15,10 14.2,12.5 14,12.6 13.1,11 11.8,7.2 10,6.9 8.7,5"],
CAF:["14.5,6.2 15,4 16,3.7 18.5,3.5 19.5,5.1 22.8,4.7 25,5 24.5,8.5 23.5,9 23,11 21.5,11 18.8,9 15.5,7.5"],
TCD:["14.2,12.5 15,10 13.5,9.6 15.5,7.5 18.8,9 21.5,11 23,11 22.9,13 24,15.7 24,19.5 15.9,23.4 14.2,22.6 15.5,20.5 15.5,16.9 13.5,13.7 13,13.4 14,12.6"],
NER:["0.2,14.9 3.5,15.4 4.2,16.9 4.2,19.1 6,19.4 11.9,23.5 14.2,22.6 15.5,20.5 15.5,16.9 13.5,13.7 13,13.4 9,12.8 3.7,11.7 2.9,12.3 1,13.3"],
MLI:["-4.9,25 1.2,20.7 3.2,19.8 4.2,19.1 4.2,16.9 3.5,15.4 0.2,14.9 -2,14.2 -3,13.6 -5,11 -6,10.3 -8.3,10.5 -8,12.2 -11.4,12.3 -12.2,14.8 -10.9,15.1 -5.5,15.5 -6.5,25"],
BFA:["-5,11 -3,13.6 -2,14.2 0.2,14.9 1,13.3 2.9,12.3 0.9,11 -0.1,11 -2.9,11 -3,10"],
NGA:["3.7,11.7 9,12.8 13,13.4 14,12.6 13.1,11 11.8,7.2 10,6.9 8.7,5 7,4.4 5.5,5.3 4.3,6.3 2.7,6.4 2.8,9"],
BEN:["1.6,6.2 2.7,6.4 2.8,9 3.7,11.7 2.9,12.3 0.9,11 1.5,9"],
TGO:["1,6 1.6,6.2 1.5,9 0.9,11 -0.1,11 0.5,8"],
GHA:["-3.2,5 1,6 0.5,8 -0.1,11 -2.9,11 -2.6,8"],
CIV:["-7.6,4.4 -3.2,5 -2.6,8 -2.9,11 -3,10 -5,11 -6,10.3 -8.3,10.5 -7.8,8.5 -8.5,7.7"],
LBR:["-11.4,6.9 -7.6,4.4 -8.5,7.7 -9.5,8.5 -10.3,8.5"],
SLE:["-13.2,8.5 -11.4,6.9 -10.3,8.5 -10.6,9.3 -11.2,10 -12.2,9.9"],
GIN:["-15,11 -13.2,9.5 -12.2,9.9 -11.2,10 -10.6,9.3 -10.3,8.5 -9.5,8.5 -8.5,7.7 -7.8,8.5 -8.3,10.5 -8,12.2 -11.4,12.3 -13.7,12.6 -13.7,11.7"],
GNB:["-16.7,12.3 -13.7,12.6 -13.7,11.7 -15,11"],
SEN:["-16.4,16.5 -14,16.6 -12.2,14.8 -11.4,12.3 -13.7,12.6 -16.7,12.3 -17.5,14.7"],
GMB:["-16.8,13.6 -14,13.7 -14,13.3 -16.7,13.2"]
};
// ---- build inline GeoJSON ----
function ring(s){const p=s.trim().split(/\s+/).map(q=>q.split(',').map(Number));let a=0;
 for(let i=0;i<p.length;i++){const j=(i+1)%p.length;a+=p[i][0]*p[j][1]-p[j][0]*p[i][1];}
 if(a>0)p.reverse();p.push(p[0].slice());return p;}
const world={type:'FeatureCollection',features:Object.keys(outlines).map(id=>({type:'Feature',id:id,properties:{},geometry:{type:'MultiPolygon',coordinates:outlines[id].map(r=>[ring(r)])}}))};
const stepScale=[];binColors.forEach((c,i)=>{stepScale.push([binEdges[i]/10,c],[binEdges[i+1]/10,c]);});
// Plotly's base-map fetch is not available: give it an empty topology
window.PlotlyGeoAssets=window.PlotlyGeoAssets||{topojson:{}};
const emptyObj={type:'GeometryCollection',geometries:[]};
window.PlotlyGeoAssets.topojson['world_110m']={type:'Topology',arcs:[],objects:{coastlines:emptyObj,land:emptyObj,ocean:emptyObj,lakes:emptyObj,rivers:emptyObj,countries:emptyObj,subunits:emptyObj}};

const PX=1200,PY=628,px=v=>v/PX,py=v=>1-v/PY;
const mapTrace={type:'choropleth',geojson:world,locationmode:'geojson-id',locations:countries,z:values,zmin:0,zmax:10,colorscale:stepScale,showscale:false,hoverinfo:'skip',marker:{line:{color:'#6e6e6e',width:0.5}}};
const noDataTrace={type:'choropleth',geojson:world,locationmode:'geojson-id',locations:noDataCountries,z:noDataCountries.map(()=>0),zmin:0,zmax:1,colorscale:[[0,'#fff'],[1,'#fff']],showscale:false,hoverinfo:'skip',marker:{line:{color:'#c8c8c8',width:0.5}}};
const legendBars={type:'bar',orientation:'h',xaxis:'x',yaxis:'y',y:binColors.map(()=>0),x:binColors.map((c,i)=>binEdges[i+1]-Math.max(binEdges[i],0.07)),base:binColors.map((c,i)=>Math.max(binEdges[i],0.07)),width:1,marker:{color:binColors,line:{color:'#6e6e6e',width:0.7}},hoverinfo:'skip',showlegend:false};
const noDataBar={type:'bar',orientation:'h',xaxis:'x2',yaxis:'y2',y:[0],x:[1],base:[0],width:1,marker:{color:'#fff',line:{color:'#a8a8a8',width:0.8},pattern:{shape:'/',fgcolor:'#cfcfcf',bgcolor:'#fff',size:8,solidity:0.2}},hoverinfo:'skip',showlegend:false};
const lat=(t,x,y,o)=>Object.assign({text:t,xref:'paper',yref:'paper',x:px(x-2),y:py(y),showarrow:false,xanchor:'left',yanchor:'middle',font:{family:'Lato',size:24.15,color:'#5b5b5b'}},o||{});
const tickFont={family:'Lato',size:23,color:'#1d1d1d'};
const layout={width:PX,height:PY,margin:{l:0,r:0,t:0,b:0},paper_bgcolor:'#fff',plot_bgcolor:'rgba(0,0,0,0)',showlegend:false,bargap:0,
 geo:{domain:{x:[px(165.5),px(922.5)],y:[py(550),py(166)]},projection:{type:'robinson'},bgcolor:'rgba(0,0,0,0)',showframe:false,showland:false,showocean:false,showlakes:false,showrivers:false,showcountries:false,showcoastlines:false,showsubunits:false,lonaxis:{showgrid:false},lataxis:{showgrid:false}},
 xaxis:{domain:[px(172),px(1147)],range:[0,10],side:'top',anchor:'y',tickmode:'array',tickvals:legendTicks,ticktext:legendTicks.map(String),ticks:'outside',ticklen:5,tickwidth:1,tickcolor:'#666',tickfont:tickFont,ticklabelstandoff:-3,showgrid:false,zeroline:false,showline:false},
 yaxis:{domain:[py(547.7),py(532.8)],range:[-0.5,0.5],anchor:'x',visible:false,fixedrange:true},
 xaxis2:{domain:[px(52.4),px(136)],range:[0,1],side:'top',anchor:'y2',tickmode:'array',tickvals:[0.5],ticktext:['No data'],ticks:'outside',ticklen:5,tickwidth:1,tickcolor:'#999',tickfont:tickFont,ticklabelstandoff:-3,showgrid:false,zeroline:false,showline:false},
 yaxis2:{domain:[py(547.7),py(532.8)],range:[-0.5,0.5],anchor:'x2',visible:false,fixedrange:true},
 shapes:[
  {type:'path',xref:'x',yref:'y',path:'M0,0 L0.08,0.5 L0.08,-0.5 Z',fillcolor:binColors[0],line:{color:'#6e6e6e',width:0.5}},
  {type:'rect',xref:'paper',yref:'paper',x0:px(1079),x1:px(1176),y0:py(78),y1:py(24),fillcolor:'#002147',line:{width:0}},
  {type:'rect',xref:'paper',yref:'paper',x0:px(1079),x1:px(1176),y0:py(78),y1:py(73.7),fillcolor:'#ce261e',line:{width:0}}
 ],
 annotations:[
  lat('<b>Electoral pluralism index, 2023</b>',24,44.5,{font:{family:'Liberation Serif',size:39.8,color:'#373737'}}),
  lat('Based on the expert estimates and index by the Economist Intelligence Unit (2006-2023). The variable',24,102.5),
  lat('captures the extent to which all citizens can choose their political leaders in free and fair elections. Higher',24,131.5),
  lat('values indicate more pluralism.',24,160),
  lat('<b>Data source:</b> Economist Intelligence Unit (2006-2023)',24,590.5,{font:{family:'Lato',size:21,color:'#858585'}}),
  lat('CC BY',1176,590.5,{xanchor:'right',font:{family:'Lato',size:21,color:'#858585'}}),
  lat('<b>Our World</b>',1129,39.5,{xanchor:'center',height:18,font:{family:'Lato',size:17.5,color:'#fff'}}),
  lat('<b>in Data</b>',1129,58.5,{xanchor:'center',height:18,font:{family:'Lato',size:17.5,color:'#fff'}})
 ]};
Plotly.newPlot('c',[mapTrace,noDataTrace,legendBars,noDataBar],layout,{displayModeBar:false,staticPlot:true}).then(gd=>{
 const svg=gd.querySelector('.main-svg');const ns='http://www.w3.org/2000/svg';
 const defs=svg.querySelector('defs')||svg.insertBefore(document.createElementNS(ns,'defs'),svg.firstChild);
 const pat=document.createElementNS(ns,'pattern');pat.setAttribute('id','nodatahatch');pat.setAttribute('patternUnits','userSpaceOnUse');pat.setAttribute('width','10');pat.setAttribute('height','10');pat.setAttribute('patternTransform','rotate(45)');
 const bar=document.createElementNS(ns,'rect');bar.setAttribute('width','3');bar.setAttribute('height','10');bar.setAttribute('fill','#e2e2e2');pat.appendChild(bar);defs.appendChild(pat);
 const tr=gd.querySelectorAll('.choroplethlayer .trace');
 if(tr[1])tr[1].querySelectorAll('path').forEach(p=>{p.style.fill='url(#nodatahatch)';p.style.fillOpacity=1;});
});
</script></body></html>
